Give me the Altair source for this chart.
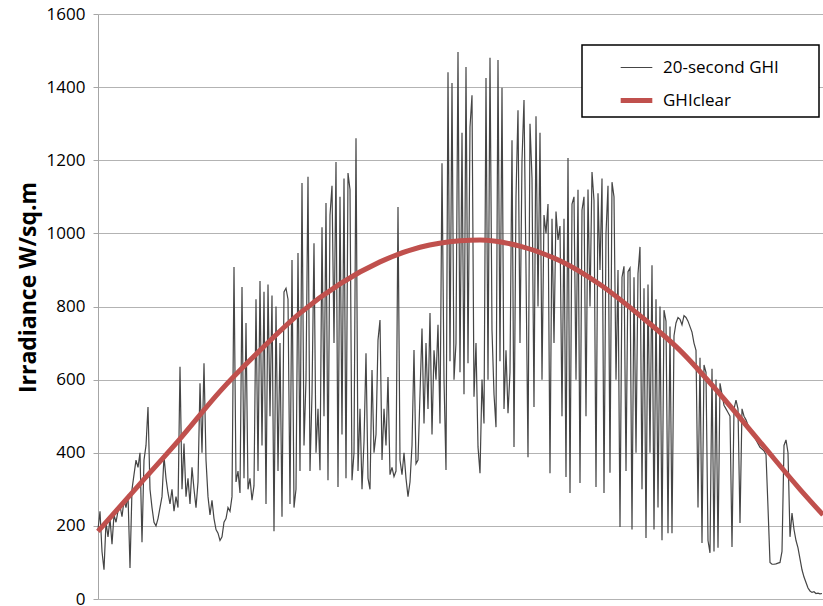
import altair as alt
import pandas as pd

# Measured global horizontal irradiance, one value per 20-second sample (W/sq.m)
ghi_20s = [
    190, 240, 130, 80, 210, 170, 220, 150, 230, 210,
    240, 255, 225, 270, 250, 285, 85, 300, 340, 380,
    360, 400, 155, 380, 420, 525, 300, 250, 210, 200,
    220, 250, 280, 390, 330, 290, 260, 300, 240, 280,
    250, 635, 300, 425, 280, 330, 260, 360, 300, 250,
    320, 590, 400, 645, 380, 280, 230, 270, 220, 190,
    180, 160, 170, 210, 220, 250, 240, 280, 908, 320,
    350, 290, 853, 330, 755, 300, 330, 270, 310, 820,
    350, 870, 420, 840, 260, 860, 500, 830, 185, 800,
    350, 700, 225, 840, 850, 820, 260, 927, 250, 300,
    946, 350, 1138, 420, 600, 1155, 350, 560, 973, 400,
    520, 352, 1017, 500, 1083, 325, 1050, 1130, 700, 1195,
    306, 1100, 450, 1150, 330, 1165, 1120, 325, 400, 1260,
    350, 520, 300, 430, 672, 330, 300, 626, 400, 450,
    708, 763, 380, 520, 420, 607, 340, 360, 335, 350,
    1072, 380, 340, 400, 330, 280, 320, 420, 681, 370,
    380, 560, 740, 480, 700, 520, 782, 450, 680, 600,
    750, 480, 1192, 600, 353, 1441, 650, 1411, 600, 700,
    1496, 620, 1275, 560, 1455, 645, 1291, 1378, 553, 700,
    416, 344, 600, 480, 1425, 600, 1480, 735, 560, 470,
    1474, 650, 1398, 520, 680, 508, 620, 1255, 416, 1100,
    1337, 700, 1200, 1365, 900, 388, 1300, 1150, 525, 1320,
    800, 1275, 600, 1050, 1000, 1080, 344, 1040, 700, 1060,
    982, 1020, 500, 1040, 334, 1206, 290, 1080, 1100, 600,
    1119, 317, 1064, 1100, 500, 1120, 800, 1168, 1090, 306,
    1110, 900, 1150, 290, 1000, 1130, 345, 1140, 1100, 600,
    900, 197, 880, 910, 350, 895, 905, 190, 880, 400,
    890, 963, 300, 850, 167, 860, 400, 913, 190, 820,
    250, 800, 161, 790, 760, 180, 745, 180, 720, 755,
    770, 765, 750, 775, 770, 760, 745, 730, 700, 680,
    250, 660, 153, 640, 620, 160, 126, 630, 130, 600,
    140, 590, 560, 530, 520, 510, 500, 142, 520, 544,
    520, 208, 520, 500, 490, 475, 460, 455, 445, 435,
    425, 415, 410, 405, 395, 250, 100, 95, 95, 96,
    98, 100, 130, 420, 435, 400, 170, 235, 190, 160,
    140, 110, 80, 60, 45, 30, 22, 18, 20, 15,
    16, 14, 15,
]

# Clear-sky model, sampled on the same sample index
clear_sample = [0, 21, 41, 61, 81, 101, 121, 141, 161, 181,
                191, 211, 231, 251, 271, 291, 311, 331, 351, 362.5]
clear_ghi = [185, 315, 438, 568, 680, 782, 862, 922, 962, 980,
             982, 965, 925, 860, 775, 680, 560, 430, 300, 230]

y_ticks = [0, 200, 400, 600, 800, 1000, 1200, 1400, 1600]

series_names = ["20-second GHI", "GHIclear"]
series_colors = ["#454545", "#C0504D"]
series_widths = [1.2, 5]

measured = pd.DataFrame({
    "sample": list(range(len(ghi_20s))),
    "value": ghi_20s,
    "series": series_names[0],
})
clear = pd.DataFrame({
    "sample": clear_sample,
    "value": clear_ghi,
    "series": series_names[1],
})

FONT = "Open Sans"

# The blank legend title sits to the right of the entries and widens the box.
legend_opts = dict(
    orient="none",
    legendX=484,
    legendY=31,
    title="\u00a0",
    titleOrient="right",
    titlePadding=34,
    titleFontSize=4,
    symbolType="stroke",
    symbolSize=1000,
    labelFontSize=17,
    labelFont=FONT,
    labelColor="#000000",
    fillColor="#FFFFFF",
    strokeColor="#000000",
    padding=6,
    symbolOffset=30,
    labelOffset=8,
    rowPadding=6,
)

x_enc = alt.X("sample:Q", axis=None,
              scale=alt.Scale(domain=[0, 362.5], nice=False, zero=False))
y_enc = alt.Y("value:Q",
              scale=alt.Scale(domain=[0, 1600], nice=False),
              axis=alt.Axis(values=y_ticks, format="d", title="Irradiance W/sq.m",
                            titleY=273))
color_enc = alt.Color("series:N",
                      scale=alt.Scale(domain=series_names, range=series_colors),
                      legend=alt.Legend(**legend_opts))
width_enc = alt.StrokeWidth("series:N",
                            scale=alt.Scale(domain=series_names, range=series_widths),
                            legend=alt.Legend(**legend_opts))

measured_line = alt.Chart(measured).mark_line(strokeJoin="miter").encode(
    x=x_enc, y=y_enc, color=color_enc, strokeWidth=width_enc
)
clear_line = alt.Chart(clear).mark_line(interpolate="monotone").encode(
    x=x_enc, y=y_enc, color=color_enc, strokeWidth=width_enc
)

chart = (
    alt.layer(measured_line, clear_line)
    .properties(
        width=725,
        height=585,
        autosize=alt.AutoSizeParams(type="none"),
        padding={"left": 98, "top": 14, "right": 0, "bottom": 7},
        background="#FFFFFF",
    )
    .configure_view(strokeWidth=0)
    .configure_axis(
        labelFont=FONT,
        labelFontSize=17,
        labelColor="#000000",
        labelPadding=8,
        tickSize=5,
        tickColor="#A6A6A6",
        domainColor="#A6A6A6",
        gridColor="#B3B3B3",
        gridWidth=1,
        titleFont=FONT,
        titleFontSize=23,
        titleFontWeight="bold",
        titleColor="#000000",
        titlePadding=6,
    )
    .configure_legend(strokeWidth=1.5)
)

chart.save("out.html", embed_options={"renderer": "svg", "actions": False})
